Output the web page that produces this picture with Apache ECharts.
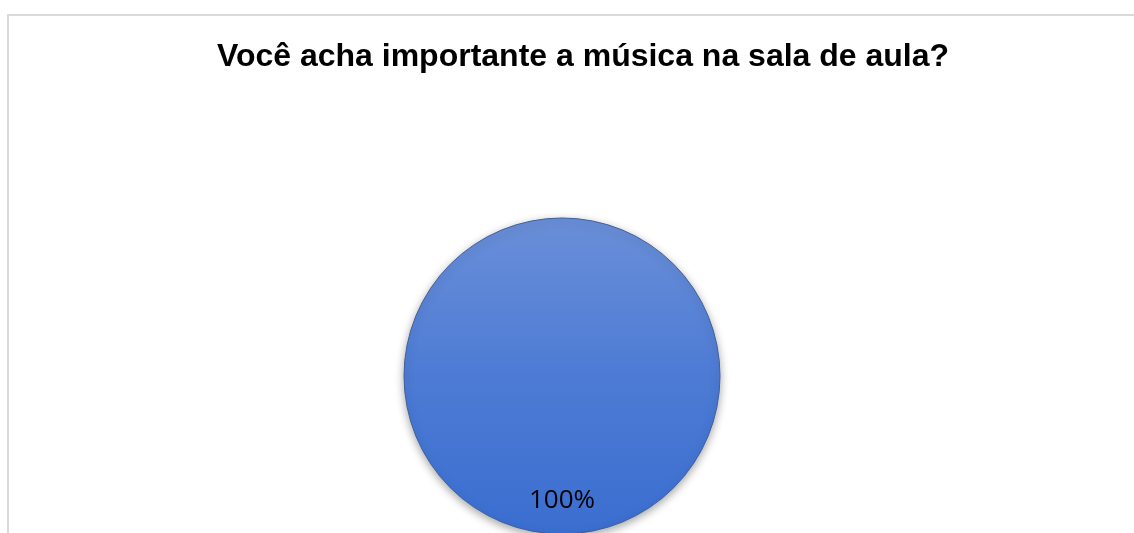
<!DOCTYPE html>
<html>
<head>
<meta charset="utf-8">
<script src="https://cdn.jsdelivr.net/npm/echarts@6/dist/echarts.min.js"></script>
<style>
html,body{margin:0;padding:0;background:#fff;}
#chart{width:1134px;height:533px;}
</style>
</head>
<body>
<div id="chart"></div>
<script>
var titleText = 'Você acha importante a música na sala de aula?';
var categories = ['Sim'];
var values = [100];
var labels = ['100%'];

var chart = echarts.init(document.getElementById('chart'), null, {renderer: 'canvas'});
var option = {
  backgroundColor: '#ffffff',
  animation: false,
  title: {
    text: titleText,
    left: 578,
    top: 36,
    textAlign: 'center',
    textStyle: {
      fontFamily: 'Liberation Sans, Arial, sans-serif',
      fontWeight: 'bold',
      fontSize: 32,
      color: '#000000'
    }
  },
  graphic: [{
    type: 'rect',
    shape: {x: 8, y: 15, width: 1200, height: 600},
    style: {fill: 'none', stroke: '#d9d9d9', lineWidth: 2},
    silent: true
  }],
  series: [{
    type: 'pie',
    center: [562, 376],
    radius: 158,
    startAngle: 90,
    clockwise: true,
    data: categories.map(function (c, i) {
      return {name: c, value: values[i], label: {formatter: labels[i]}};
    }),
    label: {
      show: true,
      position: 'inside',
      offset: [0, 43],
      fontFamily: 'Open Sans, Liberation Sans, sans-serif',
      fontSize: 26,
      color: '#000000'
    },
    labelLine: {show: false},
    itemStyle: {
      color: {
        type: 'linear', x: 0, y: 0, x2: 0, y2: 1,
        colorStops: [
          {offset: 0, color: '#6a8fd8'},
          {offset: 0.5, color: '#4d7bd4'},
          {offset: 1, color: '#3a6ed0'}
        ]
      },
      borderColor: '#3e5f9e',
      borderWidth: 1,
      shadowBlur: 8,
      shadowOffsetY: 3,
      shadowColor: 'rgba(0,0,0,0.35)'
    },
    emphasis: {disabled: true}
  }]
};
chart.setOption(option);
</script>
</body>
</html>
